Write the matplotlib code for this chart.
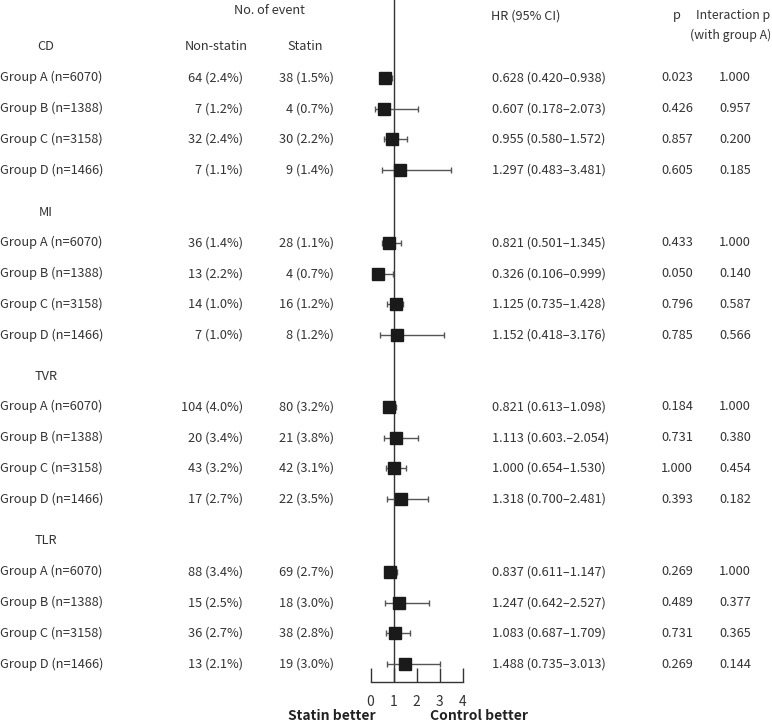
import matplotlib
matplotlib.use("Agg")
import matplotlib.pyplot as plt

plt.rcParams['font.family'] = ['Noto Sans CJK KR', 'DejaVu Sans']

# ---------------- data ----------------
outcomes = ['CD', 'MI', 'TVR', 'TLR']
groups = ['Group A (n=6070)', 'Group B (n=1388)', 'Group C (n=3158)', 'Group D (n=1466)']

nonstatin = [
    ['64 (2.4%)', '7 (1.2%)', '32 (2.4%)', '7 (1.1%)'],
    ['36 (1.4%)', '13 (2.2%)', '14 (1.0%)', '7 (1.0%)'],
    ['104 (4.0%)', '20 (3.4%)', '43 (3.2%)', '17 (2.7%)'],
    ['88 (3.4%)', '15 (2.5%)', '36 (2.7%)', '13 (2.1%)'],
]
statin = [
    ['38 (1.5%)', '4 (0.7%)', '30 (2.2%)', '9 (1.4%)'],
    ['28 (1.1%)', '4 (0.7%)', '16 (1.2%)', '8 (1.2%)'],
    ['80 (3.2%)', '21 (3.8%)', '42 (3.1%)', '22 (3.5%)'],
    ['69 (2.7%)', '18 (3.0%)', '38 (2.8%)', '19 (3.0%)'],
]
hr = [
    [0.628, 0.607, 0.955, 1.297],
    [0.821, 0.326, 1.125, 1.152],
    [0.821, 1.113, 1.000, 1.318],
    [0.837, 1.247, 1.083, 1.488],
]
ci_low = [
    [0.420, 0.178, 0.580, 0.483],
    [0.501, 0.106, 0.735, 0.418],
    [0.613, 0.603, 0.654, 0.700],
    [0.611, 0.642, 0.687, 0.735],
]
ci_high = [
    [0.938, 2.073, 1.572, 3.481],
    [1.345, 0.999, 1.428, 3.176],
    [1.098, 2.054, 1.530, 2.481],
    [1.147, 2.527, 1.709, 3.013],
]
hr_text = [
    ['0.628 (0.420–0.938)', '0.607 (0.178–2.073)', '0.955 (0.580–1.572)', '1.297 (0.483–3.481)'],
    ['0.821 (0.501–1.345)', '0.326 (0.106–0.999)', '1.125 (0.735–1.428)', '1.152 (0.418–3.176)'],
    ['0.821 (0.613–1.098)', '1.113 (0.603.–2.054)', '1.000 (0.654–1.530)', '1.318 (0.700–2.481)'],
    ['0.837 (0.611–1.147)', '1.247 (0.642–2.527)', '1.083 (0.687–1.709)', '1.488 (0.735–3.013)'],
]
p_vals = [
    ['0.023', '0.426', '0.857', '0.605'],
    ['0.433', '0.050', '0.796', '0.785'],
    ['0.184', '0.731', '1.000', '0.393'],
    ['0.269', '0.489', '0.731', '0.269'],
]
p_inter = [
    ['1.000', '0.957', '0.200', '0.185'],
    ['1.000', '0.140', '0.587', '0.566'],
    ['1.000', '0.380', '0.454', '0.182'],
    ['1.000', '0.377', '0.365', '0.144'],
]
x_ticks = [0, 1, 2, 3, 4]

# ---------------- layout ----------------
W, H = 772, 723
fig = plt.figure(figsize=(W / 100, H / 100), dpi=100)

# overlay axes in pixel coordinates for text
tax = fig.add_axes([0, 0, 1, 1])
tax.set_xlim(0, W)
tax.set_ylim(H, 0)
tax.axis('off')

# forest axes: x 0..4 -> px 370..462, y px 0..682
AX_L, AX_R, AX_B = 370.5, 462.5, 682
fax = fig.add_axes([AX_L / W, (H - AX_B) / H, (AX_R - AX_L) / W, AX_B / H])
fax.set_xlim(x_ticks[0], x_ticks[-1])
fax.set_ylim(AX_B, 0)
fax.patch.set_alpha(0)
for s in ['left', 'right', 'top']:
    fax.spines[s].set_visible(False)
fax.spines['bottom'].set_color('#333333')
fax.spines['bottom'].set_linewidth(1.0)
fax.set_yticks([])
fax.set_xticks(x_ticks)
fax.tick_params(axis='x', direction='in', length=10, width=1.0, color='#333333',
                pad=9, labelsize=10, labelcolor='#333333')
fax.axvline(1, color='#333333', lw=1.0)

FS = 9.2
txt = dict(color='#333333', fontsize=FS, va='center')

header_y = [47, 212, 376, 541]
row_gap = 30.8

# column headers
tax.text(269, 11, 'No. of event', ha='center', **txt)
tax.text(216, 47, 'Non-statin', ha='center', **txt)
tax.text(305, 47, 'Statin', ha='center', **txt)
tax.text(491, 16, 'HR (95% CI)', ha='left', **txt)
tax.text(677, 16, 'p', ha='center', **txt)
tax.text(770, 16, 'Interaction p', ha='right', color='#333333', fontsize=8.9, va='center')
tax.text(771, 35, '(with group A)', ha='right', color='#333333', fontsize=8.9, va='center')

for k, name in enumerate(outcomes):
    hy = header_y[k]
    tax.text(46, hy, name, ha='center', **txt)
    ys = [hy + row_gap * (i + 1) for i in range(len(groups))]
    for i, g in enumerate(groups):
        y = ys[i]
        tax.text(0, y, g, ha='left', **txt)
        tax.text(243, y, nonstatin[k][i], ha='right', **txt)
        tax.text(334, y, statin[k][i], ha='right', **txt)
        tax.text(492, y, hr_text[k][i], ha='left', **txt)
        tax.text(677, y, p_vals[k][i], ha='center', **txt)
        tax.text(735, y, p_inter[k][i], ha='center', **txt)
    err_lo = [hr[k][i] - ci_low[k][i] for i in range(len(groups))]
    err_hi = [ci_high[k][i] - hr[k][i] for i in range(len(groups))]
    fax.errorbar(hr[k], ys, xerr=[err_lo, err_hi], fmt='none', ecolor='#555555',
                 elinewidth=1.0, capsize=2.5, capthick=1.0, clip_on=False, zorder=2)
    fax.plot(hr[k], ys, 's', color='#1a1a1a', markersize=8, clip_on=False, zorder=3)

tax.text(332, 716, 'Statin better', ha='center', va='center', fontsize=10,
         fontweight='bold', color='#222222')
tax.text(479, 716, 'Control better', ha='center', va='center', fontsize=10,
         fontweight='bold', color='#222222')

fig.savefig('out.png', dpi=100)
